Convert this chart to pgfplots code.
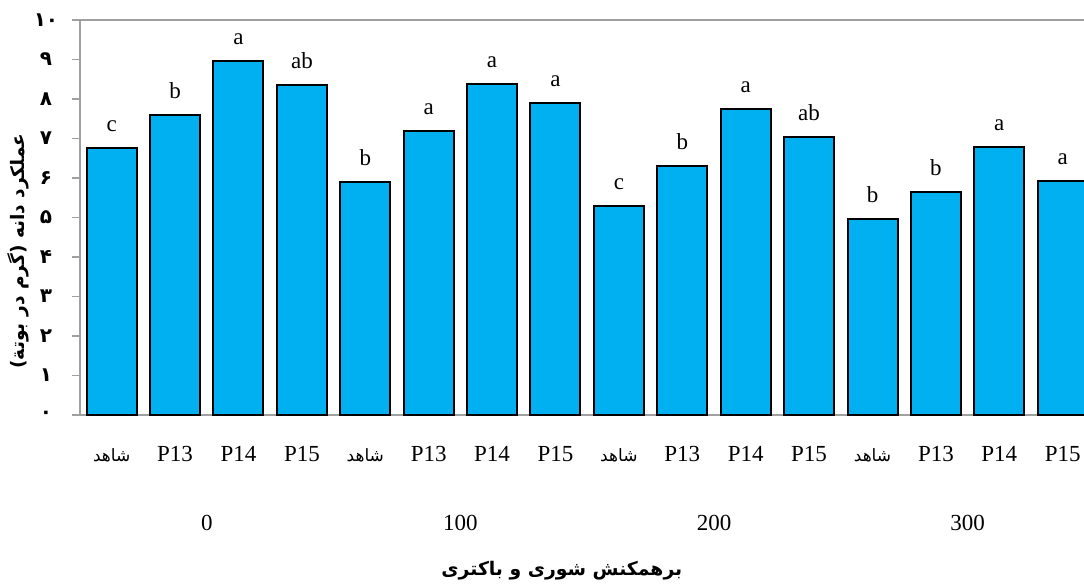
\documentclass[border=0pt]{standalone}
\usepackage{fontspec}
\setmainfont{Liberation Serif}
\newfontfamily\arabicfont[Script=Arabic]{DejaVu Sans}
\TeXXeTstate=1
\usepackage{pgfplots}
\pgfplotsset{compat=1.18}
\definecolor{barblue}{HTML}{00B0F0}
\definecolor{axgray}{HTML}{A0A0A0}
\newcommand{\sh}{{\arabicfont\fontsize{8.5}{10}\selectfont\beginR شاهد\endR}}
\newcommand{\lat}{\fontsize{11.5}{12}\selectfont}
\begin{document}
\begin{tikzpicture}
\begin{axis}[
  x=31.7pt, y=19.75pt,
  xmin=-0.5, xmax=15.336, ymin=0, ymax=10,
  axis x line*=bottom, axis y line*=left,
  axis line style={draw=axgray, line width=0.75pt},
  ybar, bar width=25pt,
  xtick={0,...,15},
  xticklabels={\sh,P13,P14,P15,\sh,P13,P14,P15,\sh,P13,P14,P15,\sh,P13,P14,P15},
  xtick style={draw=none},
  xticklabel style={anchor=base, yshift=-19pt, font=\lat},
  ytick={0,...,10},
  yticklabels={۰,۱,۲,۳,۴,۵,۶,۷,۸,۹,۱۰},
  yticklabel style={anchor=center, xshift=-13pt, font={\arabicfont\bfseries\fontsize{10}{11}\selectfont}},
  ytick style={draw=axgray, line width=0.75pt},
  tick align=outside, major tick length=4pt,
  nodes near coords, point meta=explicit symbolic,
  every node near coord/.append style={anchor=base, yshift=8.25pt, font=\lat, text=black},
  clip=false,
]
\addplot[draw=black, fill=barblue, line width=1pt] coordinates {
  (0,6.77)[c] (1,7.60)[b] (2,8.96)[a] (3,8.35)[ab]
  (4,5.89)[b] (5,7.18)[a] (6,8.38)[a] (7,7.91)[a]
  (8,5.28)[c] (9,6.30)[b] (10,7.74)[a] (11,7.05)[ab]
  (12,4.96)[b] (13,5.65)[b] (14,6.78)[a] (15,5.92)[a]
};
\node[anchor=base, font=\lat] at ([yshift=-57.5pt]axis cs:1.5,0) {0};
\node[anchor=base, font=\lat] at ([yshift=-57.5pt]axis cs:5.5,0) {100};
\node[anchor=base, font=\lat] at ([yshift=-57.5pt]axis cs:9.5,0) {200};
\node[anchor=base, font=\lat] at ([yshift=-57.5pt]axis cs:13.5,0) {300};
\node[font={\arabicfont\bfseries\fontsize{9.4}{10}\selectfont}] at ([yshift=-78pt]axis cs:7.1,0) {\beginR برهمکنش شوری و باکتری\endR};
\node[rotate=90, font={\arabicfont\bfseries\fontsize{9.3}{10}\selectfont}] at ([xshift=-31pt]axis cs:-0.5,4.15) {\beginR عملکرد دانه (گرم در بوتة)\endR};
\end{axis}
\draw[axgray, line width=0.75pt] (current axis.north west) -- (current axis.north east);
\pgfresetboundingbox
\useasboundingbox ([shift={(-40pt,-85pt)}]current axis.south west) rectangle ([yshift=10pt]current axis.north east);
\end{tikzpicture}
\end{document}
